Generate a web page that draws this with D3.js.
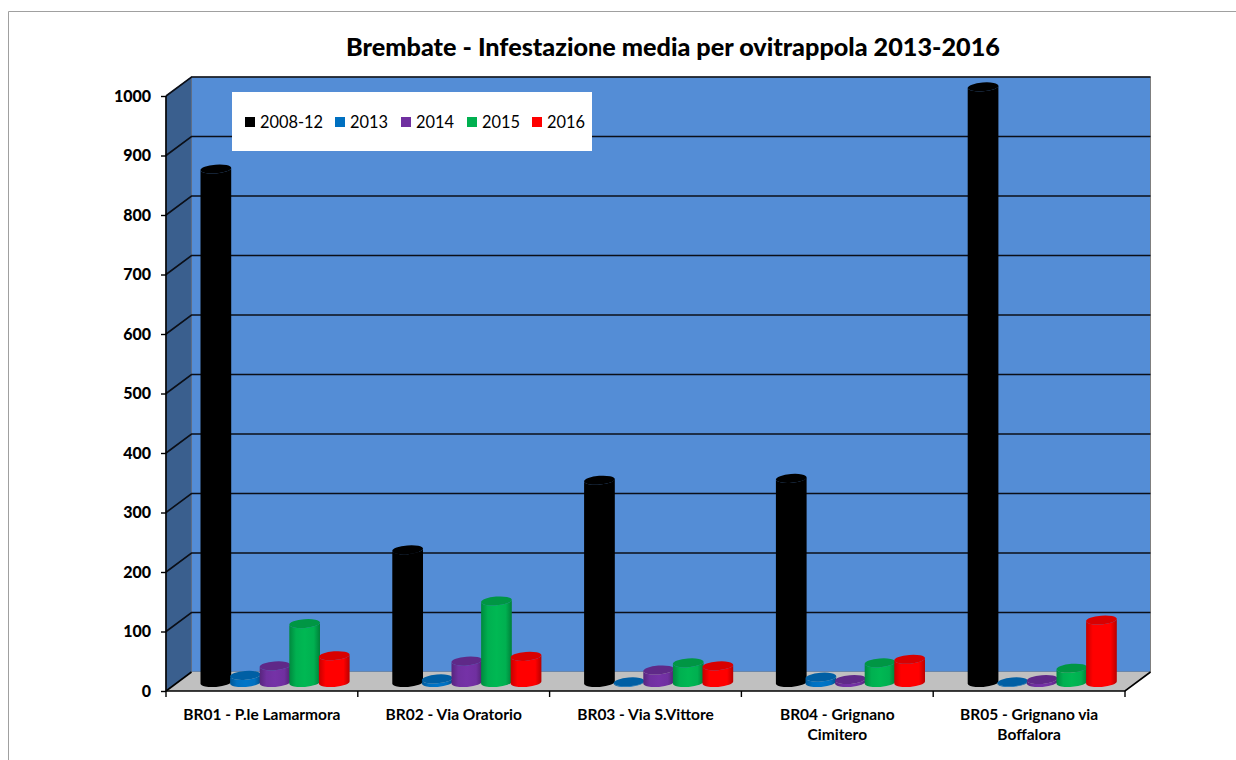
<!DOCTYPE html>
<html>
<head>
<meta charset="utf-8">
<script src="https://cdn.jsdelivr.net/npm/d3@7/dist/d3.min.js"></script>
<style>
  html, body { margin: 0; padding: 0; background: #fff; }
  text { font-family: Lato, "Noto Sans", sans-serif; fill: #000; }
  .title { font-size: 25.2px; font-weight: 900; }
  .y-axis text { font-size: 16px; font-weight: 900; }
  .x-axis text { font-size: 15.5px; font-weight: 700; }
  .legend text { font-size: 16.4px; }
</style>
</head>
<body>
<svg id="chart" width="1236" height="760"></svg>
<script>
//chart data
const TITLE = "Brembate - Infestazione media per ovitrappola 2013-2016";
const categories = ["BR01 - P.le Lamarmora", "BR02 - Via Oratorio", "BR03 - Via S.Vittore",
                    "BR04 - Grignano Cimitero", "BR05 - Grignano via Boffalora"];
const seriesNames = ["2008-12", "2013", "2014", "2015", "2016"];
const s2008 = [863, 223, 340, 343, 1001];
const s2013 = [12, 6, 1, 9, 1];
const s2014 = [28, 36, 21, 5, 5];
const s2015 = [99, 137, 33, 33, 24];
const s2016 = [45, 44, 28, 39, 105];
const seriesValues = [s2008, s2013, s2014, s2015, s2016];
const seriesColors = ["#000000", "#0070C0", "#7030A0", "#00B050", "#FF0000"];
const yTicks = [0, 100, 200, 300, 400, 500, 600, 700, 800, 900, 1000];

//define dimensions
const PLOT = {LEFT: 166, RIGHT: 1125, TOP: 96, BOTTOM: 691};
const DEPTH = {X: 25.5, Y: -19};
const BAR = {RX: 15.4, RY: 4.4, TILT: -4.5};

const svg = d3.select("#chart");

//page frame
svg.append("path")
    .attr("d", "M1236,11.5H8.5V760")
    .attr("fill", "none")
    .attr("stroke", "#a0a0a0")
    .attr("stroke-width", 1);

svg.append("text")
    .attr("class", "title")
    .attr("x", 673)
    .attr("y", 56)
    .attr("text-anchor", "middle")
    .text(TITLE);

//define scales
const x = d3.scaleBand()
    .domain(categories)
    .range([PLOT.LEFT, PLOT.RIGHT]);

const xInner = d3.scaleBand()
    .domain(seriesNames)
    .range([0, x.bandwidth()])
    .paddingOuter(0.74)
    .paddingInner(0);

const y = d3.scaleLinear()
    .domain([0, 1000])
    .range([PLOT.BOTTOM, PLOT.TOP]);

//3d box: back wall, side wall, floor
const backTop = y(1000) + DEPTH.Y;
const backBottom = y(0) + DEPTH.Y;
const backLeft = PLOT.LEFT + DEPTH.X;
const backRight = PLOT.RIGHT + DEPTH.X;

svg.append("rect")
    .attr("x", backLeft)
    .attr("y", backTop)
    .attr("width", backRight - backLeft)
    .attr("height", backBottom - backTop)
    .attr("fill", "#548dd6")
    .attr("stroke", "#7f7f7f")
    .attr("stroke-width", 1);

svg.append("polygon")
    .attr("points", [[PLOT.LEFT, y(0)], [PLOT.LEFT, y(1000)], [backLeft, backTop], [backLeft, backBottom]].join(" "))
    .attr("fill", "#3a5f8e")
    .attr("stroke", "#5f6f85")
    .attr("stroke-width", 0.8);

svg.append("polygon")
    .attr("points", [[PLOT.LEFT, y(0)], [backLeft, backBottom], [backRight, backBottom], [PLOT.RIGHT, y(0)]].join(" "))
    .attr("fill", "#c0c0c0");

//gridlines running along the side wall and back wall
const grid = svg.append("g").attr("class", "grid");
grid.selectAll("path")
    .data(yTicks.filter(d => d > 0))
    .enter()
    .append("path")
        .attr("d", d => `M${PLOT.LEFT},${y(d)}L${backLeft},${y(d) + DEPTH.Y}H${backRight}`)
        .attr("fill", "none")
        .attr("stroke", "#0b0f18")
        .attr("stroke-width", 1.6);

//floor edges
svg.append("path")
    .attr("d", `M${PLOT.LEFT},${y(1000)}V${y(0)}H${PLOT.RIGHT}L${backRight},${backBottom}`)
    .attr("fill", "none")
    .attr("stroke", "#000")
    .attr("stroke-width", 1.6);
svg.append("path")
    .attr("d", `M${PLOT.LEFT},${y(0)}L${backLeft},${backBottom}`)
    .attr("fill", "none")
    .attr("stroke", "#000")
    .attr("stroke-width", 1.6);

//y axis
const yAxis = svg.append("g")
    .attr("class", "y-axis")
    .attr("transform", `translate(${PLOT.LEFT},0)`)
    .call(d3.axisLeft(y).tickValues(yTicks).tickSize(5).tickPadding(10).tickFormat(d3.format("d")));
yAxis.select(".domain").remove();
yAxis.selectAll("line").attr("stroke", "#000").attr("stroke-width", 1.4);

//x axis, ticks sit between the categories
const xAxis = svg.append("g")
    .attr("class", "x-axis")
    .attr("transform", `translate(0,${PLOT.BOTTOM})`)
    .call(d3.axisBottom(x).tickSize(0).tickPadding(18));
xAxis.select(".domain").remove();

xAxis.selectAll(".sep")
    .data(categories.concat([null]))
    .enter()
    .append("line")
        .attr("class", "sep")
        .attr("x1", d => d ? x(d) : PLOT.RIGHT)
        .attr("x2", d => d ? x(d) : PLOT.RIGHT)
        .attr("y1", 0)
        .attr("y2", 6)
        .attr("stroke", "#000")
        .attr("stroke-width", 1.4);

//break long category labels the way the spreadsheet does
function wrap(selection, width) {
    selection.each(function() {
        const label = d3.select(this);
        const words = label.text().split(" ");
        const yPos = label.attr("y");
        let line = [];
        let n = 0;
        let tspan = label.text(null).append("tspan").attr("x", 0).attr("y", yPos).attr("dy", "0.71em");
        words.forEach(w => {
            line.push(w);
            tspan.text(line.join(" "));
            if (tspan.node().getComputedTextLength() > width && line.length > 1) {
                line.pop();
                tspan.text(line.join(" "));
                line = [w];
                n++;
                tspan = label.append("tspan").attr("x", 0).attr("y", yPos)
                    .attr("dy", `${0.71 + n * 1.3}em`).text(w);
            }
        });
    });
}
xAxis.selectAll(".tick text").attr("dy", null).call(wrap, 165);

//legend
const legend = svg.append("g").attr("class", "legend");
legend.append("rect")
    .attr("x", 232)
    .attr("y", 92)
    .attr("width", 360)
    .attr("height", 59)
    .attr("fill", "#fff");

const legendX = d3.scaleOrdinal()
    .domain(seriesNames)
    .range([245, 335, 401, 467, 532]);

const legendItems = legend.selectAll(".item")
    .data(seriesNames)
    .enter()
    .append("g")
        .attr("class", "item")
        .attr("transform", d => `translate(${legendX(d)},122)`);

legendItems.append("rect")
    .attr("y", -5)
    .attr("width", 10)
    .attr("height", 10)
    .attr("fill", (d, i) => seriesColors[i]);

legendItems.append("text")
    .attr("x", 15)
    .attr("y", 5.5)
    .text(d => d);

//cylinders
const defs = svg.append("defs");
seriesColors.forEach((c, i) => {
    const grad = defs.append("linearGradient")
        .attr("id", `body${i}`)
        .attr("x1", "0%").attr("x2", "100%")
        .attr("y1", "0%").attr("y2", "0%");
    const base = d3.color(c);
    const stops = i === 0 ? [[0, c], [1, c]]
        : [[0, base.darker(0.7)], [0.22, base], [0.5, base.brighter(0.12)], [0.8, base], [1, base.darker(0.9)]];
    stops.forEach(s => grad.append("stop")
        .attr("offset", s[0])
        .attr("stop-color", s[1]));
});

const rad = BAR.TILT * Math.PI / 180;
const edgeX = BAR.RX * Math.cos(rad);
const edgeY = BAR.RX * Math.sin(rad);

function cylinderBody(cx, yTop, yBase) {
    //left edge down, front arc of the base, right edge up, front arc of the top
    return `M${cx - edgeX},${yTop - edgeY}` +
        `L${cx - edgeX},${yBase - edgeY}` +
        `A${BAR.RX},${BAR.RY} ${BAR.TILT} 0 0 ${cx + edgeX},${yBase + edgeY}` +
        `L${cx + edgeX},${yTop + edgeY}` +
        `A${BAR.RX},${BAR.RY} ${BAR.TILT} 0 1 ${cx - edgeX},${yTop - edgeY}Z`;
}

const bars = svg.append("g").attr("class", "bars");
seriesNames.forEach((name, s) => {
    const group = bars.append("g").attr("class", "series");
    const data = categories.map((c, i) => ({
        cx: x(c) + xInner(name) + xInner.bandwidth() / 2 + DEPTH.X / 2 + 0.4,
        yTop: y(seriesValues[s][i]) + DEPTH.Y / 2 + 1,
        yBase: y(0) + DEPTH.Y / 2 + 1
    }));

    group.selectAll("path")
        .data(data)
        .enter()
        .append("path")
            .attr("d", d => cylinderBody(d.cx, d.yTop, d.yBase))
            .attr("fill", `url(#body${s})`);

    group.selectAll("ellipse")
        .data(data)
        .enter()
        .append("ellipse")
            .attr("transform", d => `translate(${d.cx},${d.yTop}) rotate(${BAR.TILT})`)
            .attr("rx", BAR.RX)
            .attr("ry", BAR.RY)
            .attr("fill", s === 0 ? "#000" : d3.color(seriesColors[s]).darker(0.45));
});
</script>
</body>
</html>
